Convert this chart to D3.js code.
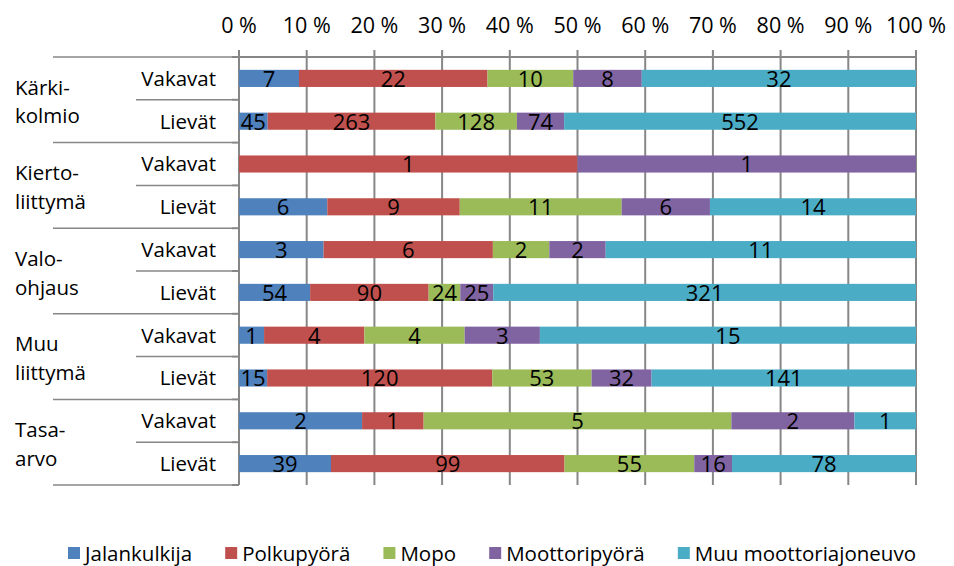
<!DOCTYPE html>
<html>
<head>
<meta charset="utf-8">
<script src="https://cdn.jsdelivr.net/npm/d3@7"></script>
<style>
  body { margin: 0; background: #fff; }
  text { font-family: "Open Sans", sans-serif; fill: #000; }
</style>
</head>
<body>
<div id="chart"></div>
<script>
// data
const groups = [["Kärki-", "kolmio"], ["Kierto-", "liittymä"], ["Valo-", "ohjaus"], ["Muu", "liittymä"], ["Tasa-", "arvo"]];
const severities = ["Vakavat", "Lievät"];
const seriesNames = ["Jalankulkija", "Polkupyörä", "Mopo", "Moottoripyörä", "Muu moottoriajoneuvo"];
const colors = ["#4F81BD", "#C0504D", "#9BBB59", "#8064A2", "#4BACC6"];

const jalankulkija  = [7, 45, 0, 6, 3, 54, 1, 15, 2, 39];
const polkupyora    = [22, 263, 1, 9, 6, 90, 4, 120, 1, 99];
const mopo          = [10, 128, 0, 11, 2, 24, 4, 53, 5, 55];
const moottoripyora = [8, 74, 1, 6, 2, 25, 3, 32, 2, 16];
const muu           = [32, 552, 0, 14, 11, 321, 15, 141, 1, 78];
const tickValues = [0, 0.1, 0.2, 0.3, 0.4, 0.5, 0.6, 0.7, 0.8, 0.9, 1];

const W = 954, H = 566;
const pLeft = 239, pRight = 916, pTop = 57, pBottom = 485;

const svg = d3.select('#chart').append('svg')
  .attr('width', W).attr('height', H);

const rows = d3.range(10);
const x = d3.scaleLinear().domain([0, 1]).range([pLeft, pRight]);
const y = d3.scaleBand().domain(rows).range([pTop, pBottom]).paddingInner(0.6).paddingOuter(0.3);
const yRow = d3.scaleBand().domain(rows).range([pTop, pBottom]);

// build stacked data
const table = rows.map(i => {
  const vals = [jalankulkija[i], polkupyora[i], mopo[i], moottoripyora[i], muu[i]];
  const total = d3.sum(vals);
  const o = { row: i };
  seriesNames.forEach((s, k) => o[s] = vals[k] / total);
  o.raw = vals;
  return o;
});
const stacked = d3.stack().keys(seriesNames)(table);

const gridColor = "#878787";

// vertical gridlines
svg.append('g').selectAll('line')
  .data(tickValues)
  .enter().append('line')
  .attr('x1', d => x(d)).attr('x2', d => x(d))
  .attr('y1', pTop - 7).attr('y2', pBottom)
  .attr('stroke', gridColor).attr('stroke-width', 2);

// top axis line
svg.append('line')
  .attr('x1', pLeft).attr('x2', x(1))
  .attr('y1', pTop).attr('y2', pTop)
  .attr('stroke', gridColor).attr('stroke-width', 2);

// tick labels
svg.append('g').selectAll('text')
  .data(tickValues)
  .enter().append('text')
  .attr('x', d => x(d))
  .attr('y', 33)
  .attr('text-anchor', 'middle')
  .style('font-size', '21.5px')
  .text(d => Math.round(d * 100) + ' %');

// left axis + category lines
svg.append('line')
  .attr('x1', pLeft).attr('x2', pLeft)
  .attr('y1', pTop).attr('y2', pBottom)
  .attr('stroke', gridColor).attr('stroke-width', 2);

d3.range(11).forEach(i => {
  const yy = i < 10 ? yRow(i) : pBottom;
  svg.append('line')
    .attr('x1', i % 2 === 0 ? 53 : 136).attr('x2', pLeft - 7)
    .attr('y1', yy).attr('y2', yy)
    .attr('stroke', gridColor).attr('stroke-width', 1.5);
  svg.append('line')
    .attr('x1', pLeft - 7).attr('x2', pLeft)
    .attr('y1', yy).attr('y2', yy)
    .attr('stroke', gridColor).attr('stroke-width', 2);
});

// bars
const layer = svg.append('g').selectAll('g')
  .data(stacked)
  .enter().append('g')
  .attr('fill', (d, k) => colors[k]);

layer.selectAll('rect')
  .data(d => d)
  .enter().append('rect')
  .attr('x', d => x(d[0]))
  .attr('y', d => y(d.data.row))
  .attr('width', d => x(d[1]) - x(d[0]))
  .attr('height', y.bandwidth());

// data labels
stacked.forEach((s, k) => {
  svg.append('g').selectAll('text')
    .data(s.filter(d => d.data.raw[k] > 0))
    .enter().append('text')
    .attr('x', d => (x(d[0]) + x(d[1])) / 2)
    .attr('y', d => y(d.data.row) + y.bandwidth() / 2)
    .attr('dy', '0.38em')
    .attr('text-anchor', 'middle')
    .style('font-size', '22px')
    .text(d => d.data.raw[k]);
});

// severity labels
svg.append('g').selectAll('text')
  .data(rows)
  .enter().append('text')
  .attr('x', 216)
  .attr('y', d => yRow(d) + yRow.bandwidth() / 2)
  .attr('dy', '0.36em')
  .attr('text-anchor', 'end')
  .style('font-size', '20.5px')
  .text(d => severities[d % 2]);

// group labels
groups.forEach((g, i) => {
  const cy = yRow(i * 2 + 1);
  svg.append('text')
    .attr('x', 15)
    .attr('y', cy)
    .style('font-size', '20.5px')
    .selectAll('tspan')
    .data(g)
    .enter().append('tspan')
    .attr('x', 15)
    .attr('dy', (d, j) => j === 0 ? '-0.25em' : '1.4em')
    .text(d => d);
});

// legend, spread between x=68 and x=916
const legend = svg.append('g').attr('transform', 'translate(0,561)');
const items = seriesNames.map((s, k) => {
  const item = legend.append('g');
  item.append('rect')
    .attr('x', 0).attr('y', -14)
    .attr('width', 12).attr('height', 12)
    .attr('fill', colors[k]);
  const t = item.append('text')
    .attr('x', 17).attr('y', 0)
    .style('font-size', '20.5px')
    .text(s);
  return { item, w: 17 + t.node().getComputedTextLength() };
});
const gap = (916 - 68 - d3.sum(items, d => d.w)) / (items.length - 1);
let lx = 68;
items.forEach(d => {
  d.item.attr('transform', `translate(${lx},0)`);
  lx += d.w + gap;
});
</script>
</body>
</html>
